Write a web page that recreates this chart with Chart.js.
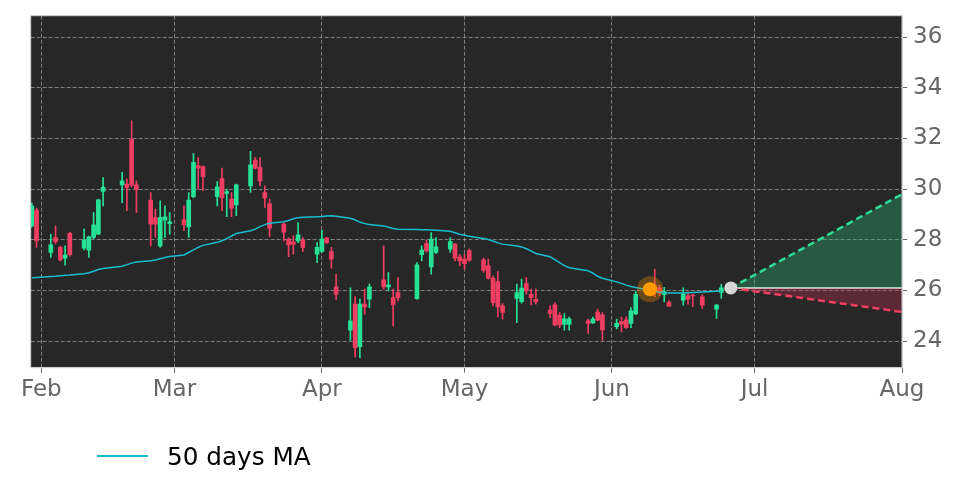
<!DOCTYPE html>
<html>
<head>
<meta charset="utf-8">
<script src="https://cdn.jsdelivr.net/npm/chart.js@4.4.1/dist/chart.umd.min.js"></script>
<style>
  html, body { margin: 0; padding: 0; background: #fff; }
  #wrap { position: relative; width: 972px; height: 486px; }
  #legend { position: absolute; left: 97px; top: 438px; height: 36px; display: flex; align-items: center;
            font: 24.7px "DejaVu Sans"; color: #000; }
  #legend .swatch { width: 51px; height: 1.5px; background: #17becf; margin-right: 19px; }
</style>
</head>
<body>
<div id="wrap">
  <canvas id="chart" width="972" height="486"></canvas>
  <div id="legend"><span class="swatch"></span><span>50 days MA</span></div>
</div>
<script>
const dates = [
  '2025-01-30','2025-01-31',
  '2025-02-03','2025-02-04','2025-02-05','2025-02-06','2025-02-07',
  '2025-02-10','2025-02-11','2025-02-12','2025-02-13','2025-02-14',
  '2025-02-18','2025-02-19','2025-02-20','2025-02-21',
  '2025-02-24','2025-02-25','2025-02-26','2025-02-27','2025-02-28',
  '2025-03-03','2025-03-04','2025-03-05','2025-03-06','2025-03-07',
  '2025-03-10','2025-03-11','2025-03-12','2025-03-13','2025-03-14',
  '2025-03-17','2025-03-18','2025-03-19','2025-03-20','2025-03-21',
  '2025-03-24','2025-03-25','2025-03-26','2025-03-27','2025-03-28',
  '2025-03-31','2025-04-01','2025-04-02','2025-04-03','2025-04-04',
  '2025-04-07','2025-04-08','2025-04-09','2025-04-10','2025-04-11',
  '2025-04-14','2025-04-15','2025-04-16','2025-04-17',
  '2025-04-21','2025-04-22','2025-04-23','2025-04-24','2025-04-25',
  '2025-04-28','2025-04-29','2025-04-30','2025-05-01','2025-05-02',
  '2025-05-05','2025-05-06','2025-05-07','2025-05-08','2025-05-09',
  '2025-05-12','2025-05-13','2025-05-14','2025-05-15','2025-05-16',
  '2025-05-19','2025-05-20','2025-05-21','2025-05-22','2025-05-23',
  '2025-05-27','2025-05-28','2025-05-29','2025-05-30',
  '2025-06-02','2025-06-03','2025-06-04','2025-06-05','2025-06-06',
  '2025-06-09','2025-06-10','2025-06-11','2025-06-12','2025-06-13',
  '2025-06-16','2025-06-17','2025-06-18','2025-06-20',
  '2025-06-23','2025-06-24'
];
const opens = [
  28.55, 29.17,
  27.50, 28.09, 27.70, 27.28, 28.26,
  27.67, 27.59, 28.09, 28.22, 29.91,
  30.17, 30.20, 31.98, 30.17,
  29.57, 28.88, 27.76, 28.78, 28.64,
  28.79, 28.51, 29.70, 30.92, 30.89,
  29.70, 30.42, 29.83, 29.61, 29.38,
  30.13, 31.15, 30.86, 29.87, 29.43,
  28.62, 28.03, 27.92, 27.96, 27.99,
  27.43, 27.54, 28.07, 27.54, 26.14,
  24.43, 25.46, 23.78, 25.46, 25.66,
  26.42, 26.14, 25.72, 25.92,
  25.68, 27.41, 27.85, 26.93, 27.50,
  27.63, 27.83, 27.33, 27.24, 27.57,
  27.21, 26.97, 26.49, 26.35, 25.39,
  25.69, 25.56, 26.27, 25.85, 25.65,
  25.23, 25.43, 25.02, 24.66, 24.66,
  24.80, 24.72, 25.15, 25.04,
  24.57, 24.78, 24.84, 24.70, 25.07,
  25.85, 26.20, 26.10, 25.84, 25.53,
  25.62, 25.79, 25.82, 25.75,
  25.26, 25.92
];
const highs = [
  29.45, 29.25,
  28.22, 28.55, 27.75, 27.76, 28.30,
  28.43, 28.15, 29.08, 29.60, 30.46,
  30.66, 30.40, 32.70, 30.33,
  29.87, 29.21, 29.54, 29.34, 29.08,
  29.34, 29.87, 31.41, 31.25, 30.92,
  30.30, 30.83, 30.00, 29.87, 30.20,
  31.49, 31.25, 31.25, 30.13, 29.61,
  28.68, 28.09, 28.16, 28.68, 28.09,
  27.89, 28.38, 28.10, 27.70, 26.64,
  26.10, 25.76, 25.66, 26.05, 26.25,
  27.76, 26.71, 26.05, 26.51,
  27.10, 27.76, 27.99, 28.29, 28.09,
  28.09, 27.86, 27.43, 27.43, 27.63,
  27.28, 27.24, 26.58, 26.75, 25.48,
  26.25, 26.45, 26.51, 26.05, 26.05,
  25.39, 25.52, 25.13, 25.09, 24.95,
  24.87, 24.95, 25.26, 25.13,
  24.87, 24.95, 24.96, 25.32, 25.98,
  26.30, 26.84, 26.20, 26.12, 25.60,
  26.10, 25.95, 25.85, 25.84,
  25.45, 26.24
];
const lows = [
  28.50, 27.70,
  27.30, 27.84, 27.17, 27.00, 27.35,
  27.60, 27.30, 28.05, 28.20, 29.34,
  29.47, 29.15, 30.10, 29.08,
  27.76, 28.09, 27.70, 28.09, 28.22,
  28.36, 28.09, 29.65, 30.00, 29.94,
  29.34, 29.15, 28.91, 28.91, 28.95,
  29.87, 30.80, 30.13, 29.28, 28.12,
  27.96, 27.33, 27.43, 27.89, 27.54,
  27.10, 27.50, 27.85, 26.88, 25.65,
  24.04, 23.38, 23.35, 25.06, 25.32,
  26.05, 25.98, 24.60, 25.59,
  25.65, 27.17, 27.50, 26.64, 27.45,
  27.50, 27.17, 26.97, 26.84, 27.15,
  26.71, 26.45, 25.39, 24.96, 24.87,
  24.73, 25.50, 25.85, 25.43, 25.46,
  24.93, 24.60, 24.53, 24.43, 24.43,
  24.30, 24.70, 24.80, 24.04,
  24.48, 24.36, 24.50, 24.53, 25.04,
  25.80, 25.75, 25.80, 25.55, 25.36,
  25.42, 25.45, 25.36, 25.29,
  24.90, 25.69
];
const closes = [
  29.34, 27.96,
  27.80, 27.93, 27.21, 27.40, 27.41,
  27.99, 28.12, 28.59, 29.58, 30.07,
  30.33, 30.07, 30.17, 29.98,
  28.62, 28.62, 28.88, 28.91, 28.71,
  28.59, 29.57, 31.06, 30.83, 30.49,
  30.09, 29.65, 29.90, 29.25, 30.17,
  30.96, 30.83, 30.33, 29.65, 28.46,
  28.29, 27.80, 27.83, 28.20, 27.70,
  27.70, 28.03, 27.89, 27.24, 25.85,
  24.80, 23.74, 25.46, 25.35, 26.14,
  26.14, 26.22, 25.43, 25.72,
  27.01, 27.59, 27.57, 28.03, 27.72,
  27.93, 27.28, 27.17, 27.06, 27.20,
  26.80, 26.49, 25.52, 25.35, 25.13,
  25.92, 26.09, 25.98, 25.72, 25.56,
  25.09, 24.64, 24.64, 24.88, 24.88,
  24.70, 24.87, 24.83, 24.44,
  24.70, 24.67, 24.53, 25.20, 25.85,
  26.05, 25.95, 25.90, 25.96, 25.38,
  25.88, 25.66, 25.78, 25.42,
  25.42, 26.10
];
const ma50 = [
  26.50, 26.51,
  26.55, 26.56, 26.58, 26.60, 26.61,
  26.66, 26.70, 26.76, 26.83, 26.87,
  26.96, 27.02, 27.08, 27.12,
  27.17, 27.20, 27.25, 27.30, 27.34,
  27.40, 27.50, 27.60, 27.70, 27.78,
  27.90, 27.96, 28.05, 28.15, 28.25,
  28.36, 28.42, 28.52, 28.60, 28.65,
  28.71, 28.76, 28.83, 28.87, 28.89,
  28.91, 28.92, 28.94, 28.95, 28.93,
  28.85, 28.78, 28.70, 28.64, 28.60,
  28.55, 28.50, 28.45, 28.42,
  28.41, 28.40, 28.40, 28.39, 28.38,
  28.34, 28.28, 28.22, 28.18, 28.14,
  28.05, 28.01, 27.95, 27.88, 27.83,
  27.76, 27.72, 27.65, 27.56, 27.46,
  27.33, 27.22, 27.10, 26.98, 26.90,
  26.78, 26.68, 26.56, 26.48,
  26.34, 26.28, 26.21, 26.16, 26.12,
  26.02, 25.97, 25.93, 25.91, 25.90,
  25.90, 25.91, 25.92, 25.94,
  25.97, 25.99
];

const monthTicks = ['2025-02-01','2025-03-01','2025-04-01','2025-05-01','2025-06-01','2025-07-01','2025-08-01'];
const monthLabels = ['Feb','Mar','Apr','May','Jun','Jul','Aug'];
const priceTicks = [24, 26, 28, 30, 32, 34, 36];

const forecastDates = ['2025-06-26', '2025-08-01'];
const forecastHigh = [26.1, 29.8];
const forecastLow = [26.1, 25.15];
const forecastBase = [26.1, 26.1];

const signalDate = '2025-06-09';
const signalPrice = 26.05;
const lastDate = '2025-06-26';
const lastPrice = 26.1;

// days since epoch, so the x axis is a plain linear scale
const day = d => Date.parse(d) / 86400000;

const upColor = '#25e296';
const downColor = '#f03e62';
const candleColors = dates.map((d, i) => closes[i] >= opens[i] ? upColor : downColor);
const wicks = dates.map((d, i) => ({ x: day(d), y: [lows[i], highs[i]] }));
const bodies = dates.map((d, i) => ({ x: day(d), y: [opens[i], closes[i]] }));
const maPoints = dates.map((d, i) => ({ x: day(d), y: ma50[i] }));
const toPoints = vals => forecastDates.map((d, i) => ({ x: day(d), y: vals[i] }));

const gridColor = 'rgba(200,200,200,0.55)';
const tickFont = { family: 'DejaVu Sans', size: 23 };

const plotFrame = {
  id: 'plotFrame',
  beforeDraw(chart) {
    const { ctx, chartArea: a } = chart;
    ctx.save();
    ctx.fillStyle = '#272727';
    ctx.fillRect(a.left, a.top, a.right - a.left, a.bottom - a.top);
    ctx.restore();
  },
  afterDraw(chart) {
    const { ctx, chartArea: a } = chart;
    ctx.save();
    ctx.strokeStyle = '#d0d0d0';
    ctx.lineWidth = 1;
    ctx.strokeRect(a.left, a.top, a.right - a.left, a.bottom - a.top);
    ctx.restore();
  }
};

const noEdgePadding = s => { s.paddingTop = 0; s.paddingBottom = 0; s.paddingLeft = 0; s.paddingRight = 0; };

new Chart(document.getElementById('chart'), {
  type: 'line',
  data: {
    datasets: [
      {
        type: 'line', data: toPoints(forecastBase),
        borderColor: '#dcdcdc', borderWidth: 2, pointRadius: 0, fill: false, order: 6
      },
      {
        type: 'line', data: toPoints(forecastHigh),
        borderColor: '#2fdc95', borderWidth: 2.5, borderDash: [7, 4], pointRadius: 0,
        fill: { target: 0 }, backgroundColor: 'rgba(40,190,125,0.33)', order: 5
      },
      {
        type: 'line', data: toPoints(forecastLow),
        borderColor: '#f03e62', borderWidth: 2.5, borderDash: [7, 4], pointRadius: 0,
        fill: { target: 0 }, backgroundColor: 'rgba(215,45,85,0.3)', order: 5
      },
      {
        type: 'bar', data: wicks, backgroundColor: candleColors,
        barThickness: 1, grouped: false, order: 4
      },
      {
        type: 'bar', data: bodies, backgroundColor: candleColors,
        barThickness: 4, minBarLength: 1, grouped: false, order: 3
      },
      {
        type: 'line', label: '50 days MA', data: maPoints,
        borderColor: '#17becf', borderWidth: 1.5, pointRadius: 0, tension: 0, order: 2
      },
      {
        type: 'line', data: [{ x: day(signalDate), y: signalPrice }], showLine: false,
        pointRadius: 13, pointBackgroundColor: 'rgba(255,150,0,0.3)', pointBorderWidth: 0, order: 1
      },
      {
        type: 'line', data: [{ x: day(signalDate), y: signalPrice }], showLine: false,
        pointRadius: 7, pointBackgroundColor: '#ff9c00', pointBorderWidth: 0, order: 0
      },
      {
        type: 'line', data: [{ x: day(lastDate), y: lastPrice }], showLine: false,
        pointRadius: 6.5, pointBackgroundColor: '#d8d8d8', pointBorderWidth: 0, order: 0
      }
    ]
  },
  options: {
    responsive: false,
    animation: false,
    layout: { padding: { left: 30.7, top: 15.7, right: 0, bottom: 0 } },
    plugins: { legend: { display: false }, tooltip: { enabled: false } },
    scales: {
      x: {
        type: 'linear',
        min: day('2025-01-30') - 0.23,
        max: day('2025-08-01'),
        offset: false,
        afterBuildTicks: s => { s.ticks = monthTicks.map(d => ({ value: day(d) })); },
        afterFit: s => { s.height = 118.3; noEdgePadding(s); },
        ticks: {
          callback: (v, i) => monthLabels[i],
          color: '#666', font: tickFont, padding: 4, maxRotation: 0, autoSkip: false
        },
        grid: { offset: false, color: gridColor, lineWidth: 1, tickLength: 5, tickColor: '#666' },
        border: { display: true, color: '#d0d0d0', dash: [4, 2] }
      },
      y: {
        type: 'linear',
        position: 'right',
        min: 22.95,
        max: 36.85,
        afterBuildTicks: s => { s.ticks = priceTicks.map(v => ({ value: v })); },
        afterFit: s => { s.width = 70; noEdgePadding(s); },
        ticks: { color: '#666', font: tickFont, padding: 6, callback: v => v },
        grid: { offset: false, color: gridColor, lineWidth: 1, tickLength: 5, tickColor: '#666' },
        border: { display: true, color: '#d0d0d0', dash: [4, 2] }
      }
    }
  },
  plugins: [plotFrame]
});
</script>
</body>
</html>
